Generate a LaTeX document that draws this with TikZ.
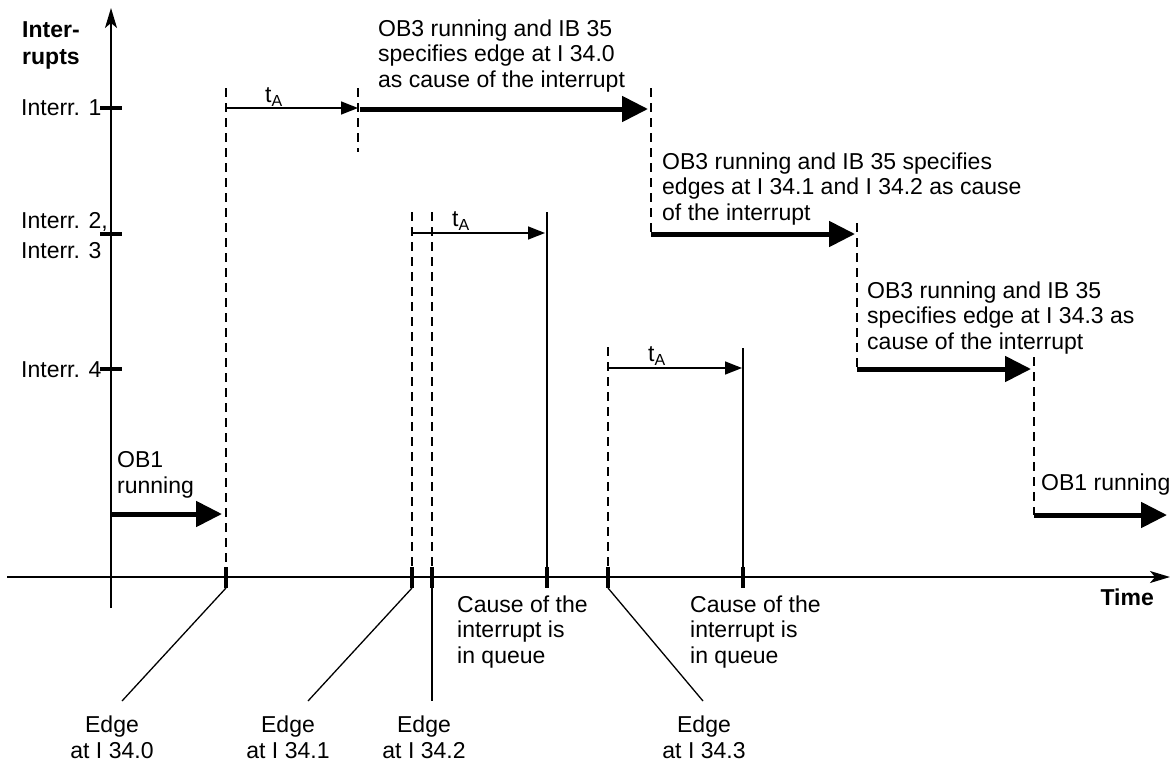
\documentclass[tikz,border=0pt]{standalone}
\usepackage{fontspec}
\setmainfont{Liberation Sans}
\usetikzlibrary{arrows.meta}
\newcommand{\tsubA}{t\raisebox{-4pt}{\fontsize{16}{16}\selectfont A}}
\begin{document}
\begin{tikzpicture}[x=1pt,y=-1pt,
  every node/.style={inner sep=0pt, font=\fontsize{23}{25.5}\selectfont},
  lbl/.style={anchor=base west, align=left},
  clbl/.style={anchor=base, align=center},
  bold/.style={font=\fontsize{23}{27}\selectfont\bfseries},
  axis/.style={line width=1.5pt, -{Stealth[length=20pt,width=12pt,inset=5pt]}},
  dsh/.style={line width=1.5pt, dash pattern=on 9pt off 6pt},
  sol/.style={line width=1.8pt},
  tickmark/.style={line width=4pt},
  run/.style={line width=5pt, -{Triangle[length=26pt,width=25pt]}},
  ta/.style={line width=1.5pt, -{Triangle[length=17pt,width=13pt]}},
  conn/.style={line width=1.3pt}]
\useasboundingbox (0,0) rectangle (1172,763);

% axes
\coordinate (yb) at (111,608); \coordinate (yt) at (111,8);
\draw[axis] (yb) -- (yt);
\coordinate (xl) at (7,577); \coordinate (xr) at (1170,577);
\draw[axis] (xl) -- (xr);

% y ticks
\draw[tickmark] (100,108) -- (122,108);
\draw[tickmark] (100,234) -- (122,234);
\draw[tickmark] (100,369) -- (122,369);

% axis labels (base anchor = baseline of last line)
\node[lbl,bold] (ylab) at (22,64) {Inter-\\rupts};
\node[lbl] (i1) at (21,115) {Interr. 1};
\node[lbl,font=\fontsize{23}{30}\selectfont] (i23) at (21,258) {Interr. 2,\\Interr. 3};
\node[lbl] (i4) at (21,377) {Interr. 4};
\node[anchor=base east,bold] (time) at (1154,605) {Time};

% event coordinates on time axis
\coordinate (e0top) at (226,567); \coordinate (e0bot) at (226,588);
\coordinate (e1top) at (412,567); \coordinate (e1bot) at (412,588);
\coordinate (e2top) at (432,567); \coordinate (e2bot) at (432,588);
\coordinate (q1top) at (547,567); \coordinate (q1bot) at (547,588);
\coordinate (e3top) at (608,567); \coordinate (e3bot) at (608,588);
\coordinate (q2top) at (743,567); \coordinate (q2bot) at (743,588);
\foreach \n in {e0,e1,e2,q1,e3,q2}{ \draw[tickmark] (\n top) -- (\n bot); }

% vertical lines
\coordinate (d0) at (226,88);   \draw[dsh] (d0) -- (e0top);
\coordinate (d1a) at (358,88);  \coordinate (d1b) at (358,152); \draw[dsh] (d1a) -- (d1b);
\coordinate (d2) at (412,212);  \draw[dsh] (d2) -- (e1top);
\coordinate (d3) at (432,212);  \draw[dsh] (d3) -- (e2top);
\coordinate (s1) at (547,212);  \draw[sol] (s1) -- (q1top);
\coordinate (d4) at (608,347);  \draw[dsh] (d4) -- (e3top);
\coordinate (s2) at (743,348);  \draw[sol] (s2) -- (q2top);
\coordinate (d5a) at (651,88);  \coordinate (d5b) at (651,234); \draw[dsh] (d5a) -- (d5b);
\coordinate (d6a) at (857,223); \coordinate (d6b) at (857,369); \draw[dsh] (d6a) -- (d6b);
\coordinate (d7a) at (1034,357);\coordinate (d7b) at (1034,515); \draw[dsh] (d7a) -- (d7b);

% running arrows
\coordinate (r0a) at (111,514); \coordinate (r0b) at (222,514); \draw[run] (r0a) -- (r0b);
\coordinate (r1a) at (360,109); \coordinate (r1b) at (648,109); \draw[run] (r1a) -- (r1b);
\coordinate (r2a) at (651,234); \coordinate (r2b) at (855,234); \draw[run] (r2a) -- (r2b);
\coordinate (r3a) at (857,369); \coordinate (r3b) at (1031,369); \draw[run] (r3a) -- (r3b);
\coordinate (r4a) at (1034,515); \coordinate (r4b) at (1167,515); \draw[run] (r4a) -- (r4b);

% t_A arrows
\coordinate (a1a) at (226,108); \coordinate (a1b) at (358,108); \draw[ta] (a1a) -- (a1b);
\coordinate (a2a) at (412,233); \coordinate (a2b) at (545,233); \draw[ta] (a2a) -- (a2b);
\coordinate (a3a) at (608,368); \coordinate (a3b) at (742,368); \draw[ta] (a3a) -- (a3b);
\node[anchor=base west] (ta1) at (265,102) {\tsubA};
\node[anchor=base west] (ta2) at (452,226) {\tsubA};
\node[anchor=base west] (ta3) at (648,361) {\tsubA};

% edge labels
\node[clbl] (l0) at (112,758) {Edge\\at I 34.0};
\node[clbl] (l1) at (288,758) {Edge\\at I 34.1};
\node[clbl] (l2) at (424,758) {Edge\\at I 34.2};
\node[clbl] (l3) at (704,758) {Edge\\at I 34.3};
\coordinate (c0) at (122,701); \draw[conn] (e0bot) -- (c0);
\coordinate (c1) at (308,701); \draw[conn] (e1bot) -- (c1);
\coordinate (c2) at (432,701); \draw[conn] (e2bot) -- (c2);
\coordinate (c3) at (703,701); \draw[conn] (e3bot) -- (c3);

% texts
\node[lbl] (t1) at (378,87) {OB3 running and IB 35\\specifies edge at I 34.0\\as cause of the interrupt};
\node[lbl] (t2) at (662,220) {OB3 running and IB 35 specifies\\edges at I 34.1 and I 34.2 as cause\\of the interrupt};
\node[lbl] (t3) at (867,349) {OB3 running and IB 35\\specifies edge at I 34.3 as\\cause of the interrupt};
\node[lbl] (ob1a) at (117,493) {OB1\\running};
\node[lbl] (ob1b) at (1041,490) {OB1 running};
\node[lbl] (q1t) at (457,663) {Cause of the\\interrupt is\\in queue};
\node[lbl] (q2t) at (690,663) {Cause of the\\interrupt is\\in queue};
\end{tikzpicture}
\end{document}
